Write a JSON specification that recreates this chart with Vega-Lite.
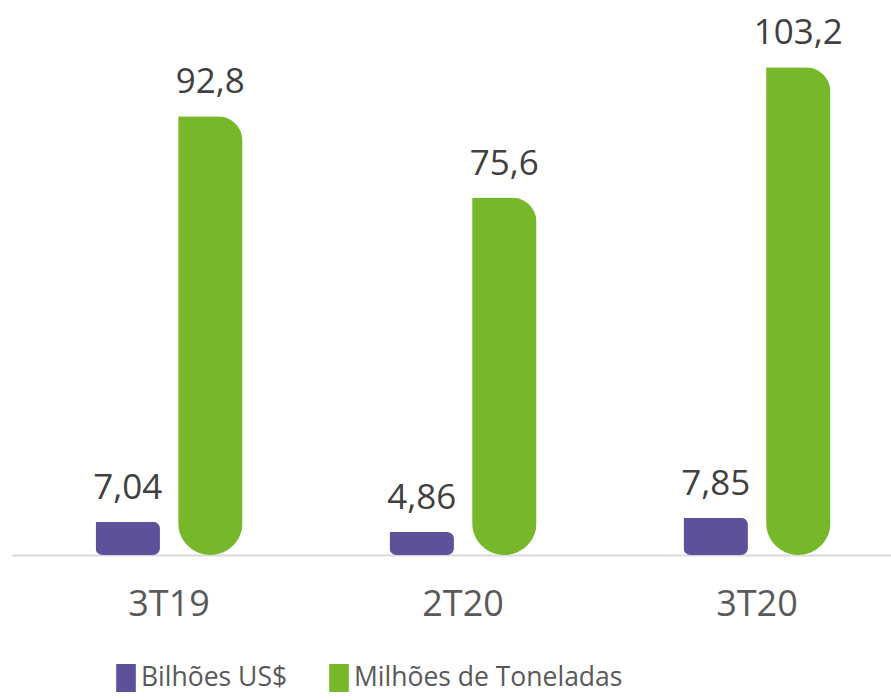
{
  "$schema": "https://vega.github.io/schema/vega-lite/v6.json",
  "width": 879,
  "height": 555,
  "padding": {"left": 12, "top": 0, "right": 0, "bottom": 2},
  "background": "white",
  "config": {
    "view": {"stroke": null},
    "font": "Open Sans",
    "locale": {"number": {"decimal": ",", "thousands": ".", "grouping": [3], "currency": ["", ""]}}
  },
  "data": {
    "values": [
      {"periodo": "3T19", "serie": "Bilhões US$", "valor": 7.04},
      {"periodo": "3T19", "serie": "Milhões de Toneladas", "valor": 92.8},
      {"periodo": "2T20", "serie": "Bilhões US$", "valor": 4.86},
      {"periodo": "2T20", "serie": "Milhões de Toneladas", "valor": 75.6},
      {"periodo": "3T20", "serie": "Bilhões US$", "valor": 7.85},
      {"periodo": "3T20", "serie": "Milhões de Toneladas", "valor": 103.2}
    ]
  },
  "encoding": {
    "x": {
      "field": "periodo", "type": "nominal", "sort": ["3T19", "2T20", "3T20"],
      "scale": {"paddingInner": 0.5, "paddingOuter": 0.245, "align": 0.58},
      "axis": {
        "title": null, "labelAngle": 0, "ticks": false,
        "domainColor": "#d9d9d9", "domainWidth": 2,
        "labelFont": "Open Sans", "labelFontSize": 36, "labelColor": "#595959",
        "labelPadding": 32
      }
    },
    "xOffset": {
      "field": "serie", "type": "nominal",
      "scale": {"domain": ["Bilhões US$", "Milhões de Toneladas"], "paddingInner": 0.22, "paddingOuter": 0}
    },
    "y": {
      "field": "valor", "type": "quantitative",
      "scale": {"domain": [0, 117.4], "nice": false, "zero": true},
      "axis": null
    }
  },
  "layer": [
    {
      "transform": [{"filter": "datum.serie === 'Bilhões US$'"}],
      "mark": {"type": "bar", "cornerRadiusTopRight": 7, "cornerRadiusBottomLeft": 7, "cornerRadiusBottomRight": 7},
      "encoding": {
        "color": {
          "field": "serie", "type": "nominal",
          "scale": {"domain": ["Bilhões US$", "Milhões de Toneladas"], "range": ["#5b529b", "#77b82a"]},
          "legend": {
            "title": null, "orient": "none", "direction": "horizontal",
            "legendX": 100, "legendY": 664,
            "symbolType": "M-0.7,-1H0.7V1H-0.7Z", "symbolSize": 784,
            "symbolStrokeWidth": 0, "labelOffset": 1, "columnPadding": 37,
            "labelFont": "Open Sans", "labelFontSize": 26.5, "labelColor": "#595959",
            "labelLimit": 0
          }
        }
      }
    },
    {
      "transform": [{"filter": "datum.serie === 'Milhões de Toneladas'"}],
      "mark": {"type": "bar", "cornerRadiusTopRight": 25, "cornerRadiusBottomLeft": 33, "cornerRadiusBottomRight": 33},
      "encoding": {
        "color": {"field": "serie", "type": "nominal"}
      }
    },
    {
      "mark": {"type": "text", "baseline": "alphabetic", "dy": -23, "fontSize": 35, "color": "#404040", "font": "Open Sans"},
      "encoding": {
        "text": {"field": "valor", "type": "quantitative", "format": "~r"}
      }
    }
  ]
}
